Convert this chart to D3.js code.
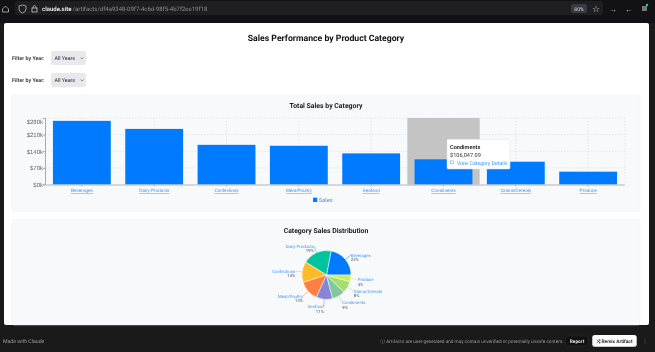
<!DOCTYPE html>
<html>
<head>
<meta charset="utf-8">
<script src="https://cdn.jsdelivr.net/npm/d3@7"></script>
<style>
  html, body { margin: 0; padding: 0; background: #1a1a1a; overflow: hidden; }
  svg { display: block; font-family: Roboto, "Noto Sans", sans-serif; filter: blur(0.3px); text-rendering: geometricPrecision; }
  .link { fill: #3d96f0; }
  .underlined { text-decoration: underline; }
  .grid { stroke: #dcdcdc; stroke-dasharray: 1.5 1.5; stroke-width: .6; }
</style>
</head>
<body>
<svg id="chart" width="655" height="352"></svg>
<script>
// values
const categories = ['Beverages', 'Dairy Products', 'Confections', 'Meat/Poultry', 'Seafood', 'Condiments', 'Grains/Cereals', 'Produce'];
const sales = [268000, 234000, 167000, 163000, 131000, 106047.09, 96000, 54000];
const shares = [22, 19, 14, 13, 11, 9, 8, 4];
const yTicks = [0, 70000, 140000, 210000, 280000];
const pieColors = ['#007bff', '#00c49f', '#ffbb28', '#ff8042', '#8884d8', '#82ca9d', '#a4de6c', '#d0ed57'];
const filters = ['Filter by Year:', 'Filter by Year:'];

const svg = d3.select('#chart');

// browser chrome
svg.append('rect').attr('width', 655).attr('height', 23).attr('fill', '#121214');
svg.append('rect').attr('x', 15).attr('y', 1).attr('width', 588).attr('height', 14).attr('rx', 2).attr('fill', '#1e1e23');
svg.append('path').attr('d', 'M2.5 9 L5.5 6 L8.5 9 V12 H2.5 Z').attr('fill', 'none').attr('stroke', '#bbb').attr('stroke-width', .8);
svg.append('path').attr('d', 'M19 6 L22.5 5 L26 6 V9 Q26 12 22.5 13 Q19 12 19 9 Z').attr('fill', 'none').attr('stroke', '#bbb').attr('stroke-width', .8);
svg.append('rect').attr('x', 32).attr('y', 8).attr('width', 5).attr('height', 4).attr('fill', 'none').attr('stroke', '#ccc').attr('stroke-width', .8);
svg.append('path').attr('d', 'M33 8 V6.5 Q34.5 4.5 36 6.5 V8').attr('fill', 'none').attr('stroke', '#ccc').attr('stroke-width', .7);
svg.append('text').attr('x', 42).attr('y', 11).attr('font-size', 6).attr('fill', '#eee').attr('font-weight', 600).text('claude.site');
svg.append('text').attr('x', 72.5).attr('y', 11).attr('font-size', 6).attr('fill', '#8c8c90').text('/artifacts/df4a9348-09f7-4c6d-98f5-4b7f2ee19f18');
svg.append('rect').attr('x', 571).attr('y', 4).attr('width', 16).attr('height', 9).attr('rx', 2).attr('fill', '#3a3a42');
svg.append('text').attr('x', 579).attr('y', 10.5).attr('text-anchor', 'middle').attr('font-size', 5).attr('fill', '#ddd').text('80%');
svg.append('text').attr('x', 596).attr('y', 11.5).attr('text-anchor', 'middle').attr('font-size', 9).attr('fill', '#ccc').text('☆');
svg.append('text').attr('x', 613).attr('y', 11.5).attr('text-anchor', 'middle').attr('font-size', 8).attr('fill', '#ccc').text('→');
svg.append('text').attr('x', 629).attr('y', 11.5).attr('text-anchor', 'middle').attr('font-size', 8).attr('fill', '#ccc').text('←');
svg.append('rect').attr('x', 642).attr('y', 6).attr('width', 5).attr('height', 5).attr('fill', '#777');
svg.append('circle').attr('cx', 647).attr('cy', 5).attr('r', 1.2).attr('fill', '#19d3a2');

// page card
svg.append('rect').attr('x', 4).attr('y', 23).attr('width', 645).attr('height', 302).attr('rx', 2).attr('fill', '#fff');
svg.append('text').attr('x', 326).attr('y', 41).attr('text-anchor', 'middle').attr('font-size', 8.7).attr('font-weight', 700).attr('fill', '#111').text('Sales Performance by Product Category');

// year filters
filters.forEach((label, i) => {
  const top = 51 + i * 22;
  svg.append('text').attr('x', 12).attr('y', top + 9).attr('font-size', 5.3).attr('font-weight', 600).attr('fill', '#333').text(label);
  svg.append('rect').attr('x', 51).attr('y', top).attr('width', 35).attr('height', 14).attr('rx', 2).attr('fill', '#e9e9ed');
  svg.append('text').attr('x', 54.5).attr('y', top + 9).attr('font-size', 5.3).attr('fill', '#222').text('All Years');
  svg.append('path').attr('d', `M80.5 ${top + 6.5} L82 ${top + 8} L83.5 ${top + 6.5}`).attr('fill', 'none').attr('stroke', '#555').attr('stroke-width', .6);
});

// panels
[[95, 116.5], [219.5, 105.5]].forEach(([top, h]) => {
  svg.append('rect').attr('x', 12).attr('y', top).attr('width', 628).attr('height', h).attr('rx', 2)
    .attr('fill', '#f8f9fa').attr('stroke', '#eceef0').attr('stroke-width', .5);
});

// bar chart
svg.append('text').attr('x', 326).attr('y', 108).attr('text-anchor', 'middle').attr('font-size', 6.9).attr('font-weight', 700).attr('fill', '#222').text('Total Sales by Category');

const x = d3.scaleBand().domain(categories).range([45.7, 624.3]).paddingInner(0.2).paddingOuter(0.1);
const y = d3.scaleLinear().domain([0, 280000]).range([184.5, 118]);
const step = x.step();
const center = c => x(c) + x.bandwidth() / 2;

const grid = svg.append('g');
yTicks.slice(1).forEach(t => {
  grid.append('line').attr('class', 'grid').attr('x1', 45).attr('x2', 625).attr('y1', y(t)).attr('y2', y(t));
});
categories.map(center).concat([625]).forEach(gx => {
  grid.append('line').attr('class', 'grid').attr('x1', gx).attr('x2', gx).attr('y1', 118).attr('y2', 184.5);
});

// hover cursor behind the hovered bar
svg.append('rect').attr('x', center('Condiments') - step / 2).attr('y', 118).attr('width', step).attr('height', 66.5).attr('fill', '#c4c4c4');

svg.selectAll('.bar').data(categories).enter().append('rect')
  .attr('class', 'bar')
  .attr('x', d => x(d))
  .attr('y', (d, i) => y(sales[i]))
  .attr('width', x.bandwidth())
  .attr('height', (d, i) => y(0) - y(sales[i]))
  .attr('fill', '#007bff');

const yAxis = svg.append('g').attr('transform', 'translate(45,0)')
  .call(d3.axisLeft(y).tickValues(yTicks).tickSize(2).tickPadding(0).tickFormat(d => `$${d / 1000}k`));
yAxis.selectAll('text').attr('fill', '#666').attr('font-size', 6).attr('font-family', 'inherit');
yAxis.selectAll('line, path').attr('stroke', '#aaa');
yAxis.selectAll('text').filter(d => d === 280000).attr('dy', '0.9em');

const xAxis = svg.append('g').attr('transform', 'translate(0,184.5)')
  .call(d3.axisBottom(x).tickSize(2).tickPadding(2.5).tickSizeOuter(0));
xAxis.selectAll('text').attr('class', 'link underlined').attr('font-size', 4.6).attr('font-family', 'inherit');
xAxis.selectAll('line, path').attr('stroke', '#b5b5b5');
xAxis.select('path').attr('stroke-width', 1);

// legend
svg.append('rect').attr('x', 313).attr('y', 197.7).attr('width', 4.3).attr('height', 4.3).attr('fill', '#007bff');
svg.append('text').attr('class', 'link').attr('x', 319).attr('y', 202).attr('font-size', 5.6).text('Sales');

// tooltip
const tip = svg.append('g').attr('transform', 'translate(447,139.3)');
tip.append('rect').attr('width', 63).attr('height', 29.7).attr('rx', 1).attr('fill', '#fff').attr('stroke', '#ddd').attr('stroke-width', .5);
tip.append('text').attr('x', 3).attr('y', 9.7).attr('font-size', 5.6).attr('font-weight', 600).attr('fill', '#222').text(categories[5]);
tip.append('text').attr('x', 3).attr('y', 18).attr('font-size', 5.6).attr('fill', '#333').text(d3.format('$,.2f')(sales[5]));
tip.append('rect').attr('x', 3.2).attr('y', 21.6).attr('width', 3).attr('height', 3).attr('fill', 'none').attr('stroke', '#3d96f0').attr('stroke-width', .5);
tip.append('text').attr('class', 'link').attr('x', 10).attr('y', 25.4).attr('font-size', 5.2).text('View Category Details');

// pie chart
svg.append('text').attr('x', 326).attr('y', 233).attr('text-anchor', 'middle').attr('font-size', 6.9).attr('font-weight', 700).attr('fill', '#222').text('Category Sales Distribution');

const cx = 326.5, cy = 275, r = 24.5, labelR = r + 7;
const pie = d3.pie().sort(null).startAngle(Math.PI / 2).endAngle(Math.PI / 2 - 2 * Math.PI);
const arc = d3.arc().innerRadius(0).outerRadius(r);
const arcs = pie(sales);
const pieG = svg.append('g').attr('transform', `translate(${cx},${cy})`);
pieG.selectAll('path').data(arcs).enter().append('path')
  .attr('d', arc)
  .attr('fill', (d, i) => pieColors[i])
  .attr('stroke', '#fff').attr('stroke-width', .5);

arcs.forEach((d, i) => {
  const mid = (d.startAngle + d.endAngle) / 2;
  const ux = Math.sin(mid), uy = -Math.cos(mid);
  pieG.append('line')
    .attr('x1', ux * r).attr('y1', uy * r)
    .attr('x2', ux * labelR).attr('y2', uy * labelR)
    .attr('stroke', pieColors[i]).attr('stroke-width', .5);
  const anchor = ux > 0 ? 'start' : 'end';
  const lx = ux * labelR, ly = uy * labelR;
  pieG.append('text').attr('class', 'link').attr('x', lx).attr('y', ly + 1.7).attr('text-anchor', anchor).attr('font-size', 4.3).text(categories[i]);
  pieG.append('text').attr('x', lx).attr('y', ly + 6.3).attr('text-anchor', anchor).attr('font-size', 4.3).attr('fill', '#555').text(shares[i] + '%');
});

// footer bar
svg.append('text').attr('x', 3).attr('y', 342.5).attr('font-size', 5.2).attr('fill', '#9a9a9a').text('Made with Claude');
svg.append('text').attr('x', 563.5).attr('y', 342.5).attr('text-anchor', 'end').attr('font-size', 4.7).attr('fill', '#9a9a9a').text('ⓘ Artifacts are user-generated and may contain unverified or potentially unsafe content.');
svg.append('rect').attr('x', 565.7).attr('y', 336).attr('width', 22.3).attr('height', 10).attr('rx', 2).attr('fill', '#111').attr('stroke', '#333').attr('stroke-width', .5);
svg.append('text').attr('x', 577).attr('y', 342.7).attr('text-anchor', 'middle').attr('font-size', 4.8).attr('font-weight', 600).attr('fill', '#eee').text('Report');
svg.append('rect').attr('x', 592.3).attr('y', 335).attr('width', 44.4).attr('height', 11.7).attr('rx', 2.5).attr('fill', '#fff');
svg.append('text').attr('x', 614.5).attr('y', 342.7).attr('text-anchor', 'middle').attr('font-size', 4.8).attr('font-weight', 600).attr('fill', '#111').text('⤭ Remix Artifact');
svg.append('text').attr('x', 645).attr('y', 343).attr('text-anchor', 'middle').attr('font-size', 6).attr('fill', '#888').text('⋮');
</script>
</body>
</html>
